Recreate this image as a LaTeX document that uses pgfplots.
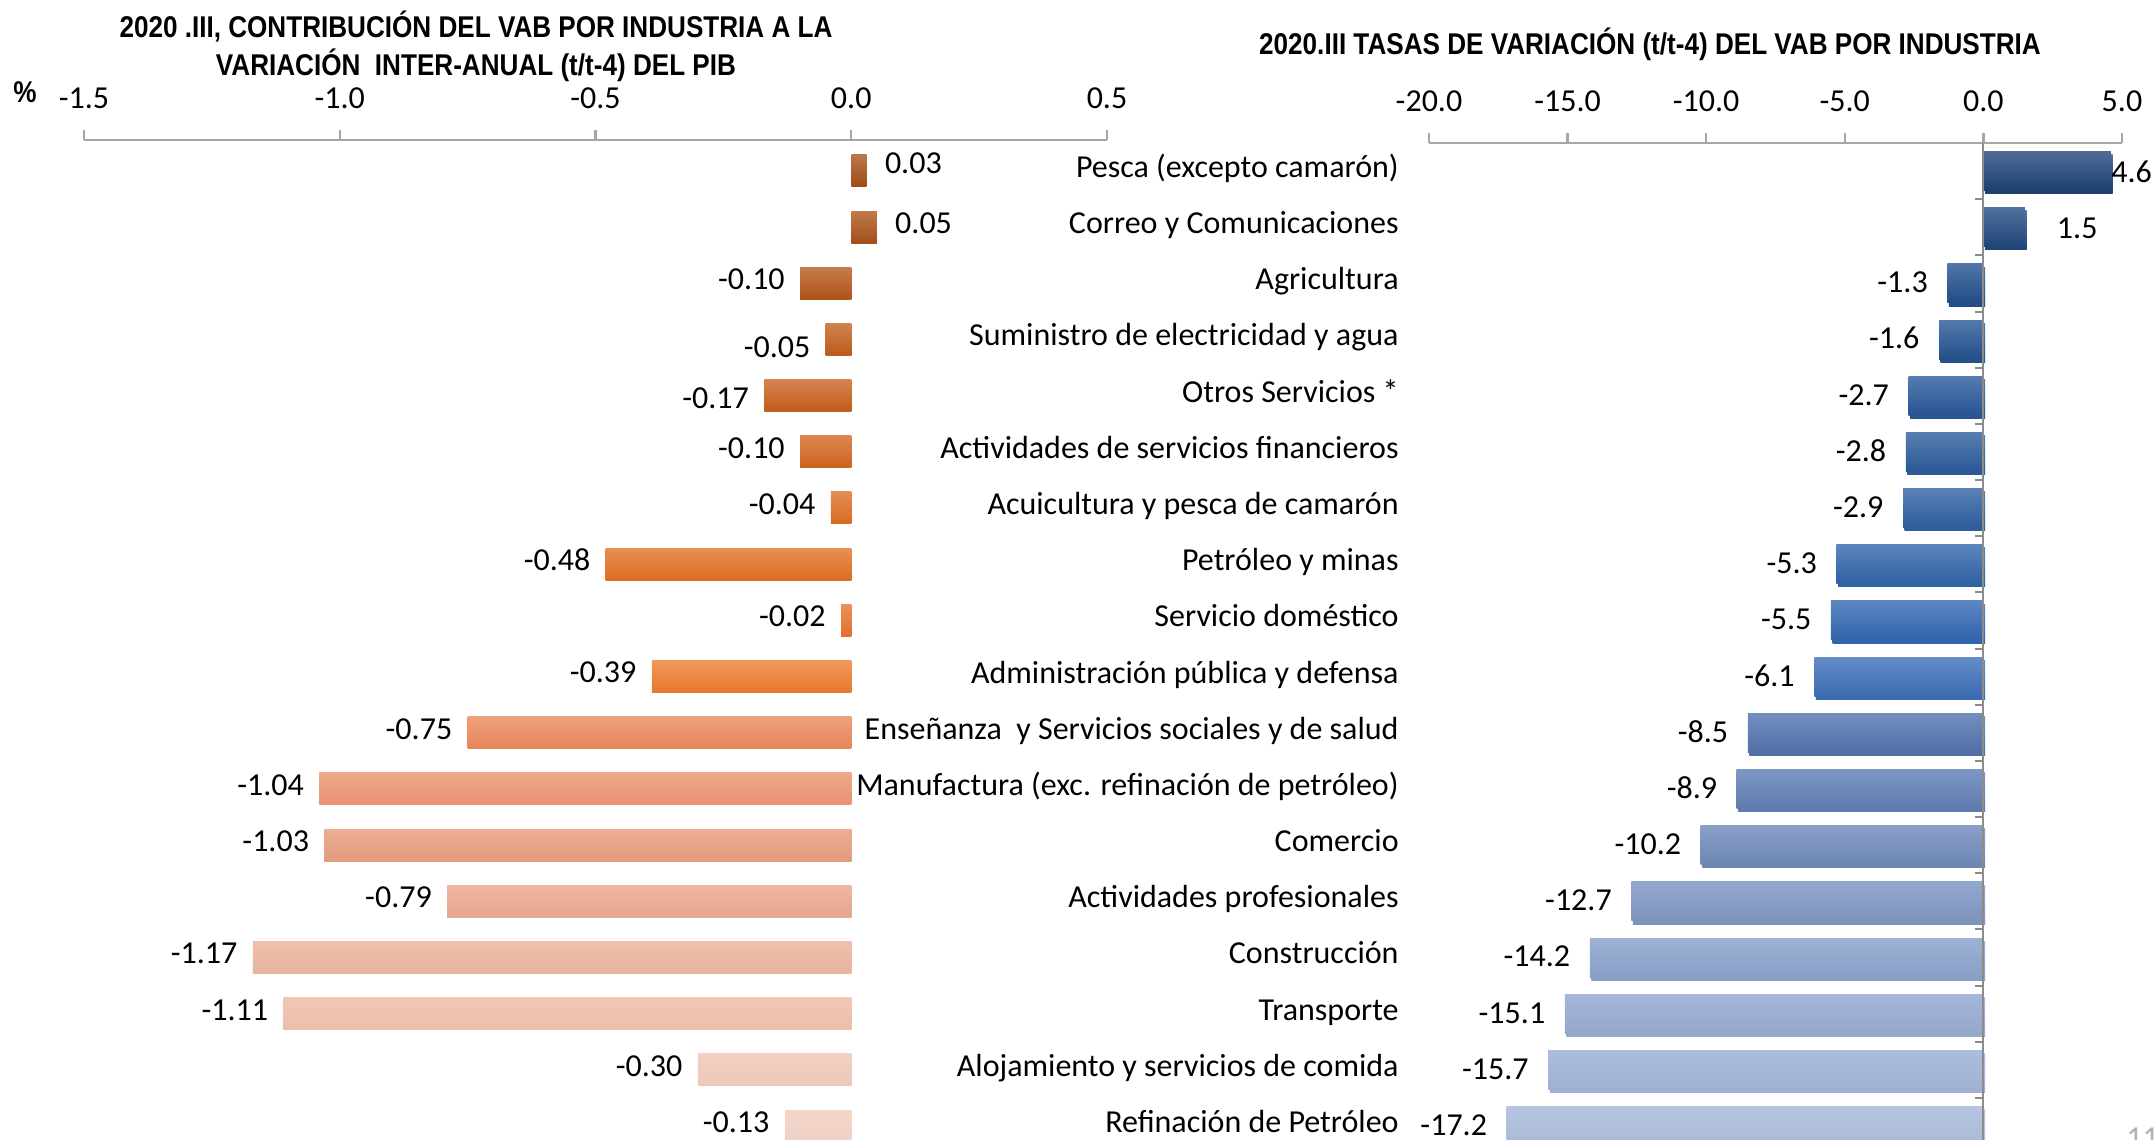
\documentclass[border=0pt]{standalone}
\usepackage{pgfplots}
\pgfplotsset{compat=1.18}
\usepackage{fontspec}
\setmainfont{Carlito}
\newfontfamily\titlefont[FakeStretch=0.87]{Liberation Sans}
\newcommand\lab{\fontsize{16}{19}\selectfont}
\newcommand\ttl{\titlefont\bfseries\fontsize{15}{19}\selectfont}

\definecolor{axgray}{HTML}{A6A6A6}
\definecolor{axgray2}{HTML}{8C8C8C}
\definecolor{lpeach}{HTML}{FFE0C8}
\definecolor{lblue}{HTML}{CFE0FF}
% left bars (top to bottom)
\definecolor{La}{HTML}{9E4A16}
\definecolor{Lb}{HTML}{A44E18}
\definecolor{Lc}{HTML}{AE5218}
\definecolor{Ld}{HTML}{BA5A1C}
\definecolor{Le}{HTML}{C25C1C}
\definecolor{Lf}{HTML}{CC621E}
\definecolor{Lg}{HTML}{D86A22}
\definecolor{Lh}{HTML}{DE6C22}
\definecolor{Li}{HTML}{E27028}
\definecolor{Lj}{HTML}{E8782E}
\definecolor{Lk}{HTML}{E6855A}
\definecolor{Ll}{HTML}{E89272}
\definecolor{Lm}{HTML}{E49A7E}
\definecolor{Ln}{HTML}{E6A590}
\definecolor{Lo}{HTML}{E8B2A0}
\definecolor{Lp}{HTML}{EBBCAC}
\definecolor{Lq}{HTML}{EDC8BC}
\definecolor{Lr}{HTML}{EFD2C8}
% right bars (top to bottom)
\definecolor{Ra}{HTML}{1C3F6E}
\definecolor{Rb}{HTML}{1F4577}
\definecolor{Rc}{HTML}{214C85}
\definecolor{Rd}{HTML}{24508A}
\definecolor{Re}{HTML}{275592}
\definecolor{Rf}{HTML}{2A5895}
\definecolor{Rg}{HTML}{2C5C9A}
\definecolor{Rh}{HTML}{2F61A3}
\definecolor{Ri}{HTML}{3064AA}
\definecolor{Rj}{HTML}{3B6CB0}
\definecolor{Rk}{HTML}{4F6FA6}
\definecolor{Rl}{HTML}{5E7AAE}
\definecolor{Rm}{HTML}{6E86B4}
\definecolor{Rn}{HTML}{7D92BC}
\definecolor{Ro}{HTML}{8A9FC6}
\definecolor{Rp}{HTML}{95A8CC}
\definecolor{Rq}{HTML}{9FB0D2}
\definecolor{Rr}{HTML}{AAB9D6}

\pgfplotsset{
 common/.style={
  scale only axis, anchor=south west, height=502pt,
  ymin=-0.32, ymax=17.55,
  axis x line*=top,
  x axis line style={-, draw=axgray, line width=1.2pt},
  xtick align=outside, major tick length=5pt,
  xtick style={draw=axgray, line width=1.2pt},
  xticklabel style={font=\lab, text=black, anchor=center, yshift=16pt},
  clip=false,
  point meta=explicit symbolic,
  nodes near coords={\pgfplotspointmeta},
  every node near coord/.append style={font=\lab, text=black, inner sep=0pt, text height=0.85em, text depth=0.21em},
 },
 lbar/.style={xbar, bar width=16pt, bar shift=0pt, draw=none, forget plot, top color=#1!70!lpeach, bottom color=#1},
 rbar/.style={xbar, bar width=19.5pt, bar shift=0pt, draw=none, forget plot, top color=#1!72!lblue, bottom color=#1,
   preaction={fill=black!18, transform canvas={xshift=0.8pt, yshift=-1.6pt}}},
 vpos/.style={every node near coord/.append style={anchor=west, xshift=#1}},
 vneg/.style={every node near coord/.append style={anchor=east, xshift=-#1}},
}

\begin{document}
\begin{tikzpicture}
\useasboundingbox (0,0) rectangle (1077pt,570pt);

% ---------------- left chart ----------------
\begin{axis}[common,
  at={(42pt,-2pt)}, width=511.5pt,
  xmin=-1.5, xmax=0.5,
  axis y line=none, ytick=\empty,
  xtick={-1.5,-1,-0.5,0,0.5}, xticklabels={-1.5,-1.0,-0.5,0.0,0.5},
]
\addplot[lbar=La, vpos=9pt, every node near coord/.append style={yshift=2pt}] coordinates {(0.03,17) [0.03]};
\addplot[lbar=Lb, vpos=9pt] coordinates {(0.05,16) [0.05]};
\addplot[lbar=Lc, vneg=7.5pt] coordinates {(-0.10,15) [-0.10]};
\addplot[lbar=Ld, vneg=7.5pt, every node near coord/.append style={yshift=-6pt}] coordinates {(-0.05,14) [-0.05]};
\addplot[lbar=Le, vneg=7.5pt, every node near coord/.append style={yshift=-3pt}] coordinates {(-0.17,13) [-0.17]};
\addplot[lbar=Lf, vneg=7.5pt] coordinates {(-0.10,12) [-0.10]};
\addplot[lbar=Lg, vneg=7.5pt] coordinates {(-0.04,11) [-0.04]};
\addplot[lbar=Lh, vneg=7.5pt] coordinates {(-0.48,10) [-0.48]};
\addplot[lbar=Li, vneg=7.5pt] coordinates {(-0.02,9) [-0.02]};
\addplot[lbar=Lj, vneg=7.5pt] coordinates {(-0.39,8) [-0.39]};
\addplot[lbar=Lk, vneg=7.5pt] coordinates {(-0.75,7) [-0.75]};
\addplot[lbar=Ll, vneg=7.5pt] coordinates {(-1.04,6) [-1.04]};
\addplot[lbar=Lm, vneg=7.5pt] coordinates {(-1.03,5) [-1.03]};
\addplot[lbar=Ln, vneg=7.5pt] coordinates {(-0.79,4) [-0.79]};
\addplot[lbar=Lo, vneg=7.5pt] coordinates {(-1.17,3) [-1.17]};
\addplot[lbar=Lp, vneg=7.5pt] coordinates {(-1.11,2) [-1.11]};
\addplot[lbar=Lq, vneg=7.5pt] coordinates {(-0.30,1) [-0.30]};
\addplot[lbar=Lr, vneg=7.5pt] coordinates {(-0.13,0) [-0.13]};
\end{axis}

% ---------------- right chart ----------------
\begin{axis}[common,
  at={(714.5pt,-2pt)}, width=346.5pt, height=500.5pt, ymax=17.5,
  xmin=-20, xmax=5,
  axis y line*=left, y axis line style={draw=none},
  xtick={-20,-15,-10,-5,0,5}, xticklabels={-20.0,-15.0,-10.0,-5.0,0.0,5.0},
  ytick={0,1,...,17}, ytick style={draw=none},
  yticklabels={Refinación de Petróleo, Alojamiento y servicios de comida, Transporte, Construcción, Actividades profesionales, Comercio, Manufactura (exc. refinación de petróleo), Enseñanza\ \ y Servicios sociales y de salud, Administración pública y defensa, Servicio doméstico, Petróleo y minas, Acuicultura y pesca de camarón, Actividades de servicios financieros, Otros Servicios *, Suministro de electricidad y agua, Agricultura, Correo y Comunicaciones, Pesca (excepto camarón)},
  yticklabel style={font=\lab, text=black, anchor=east, inner sep=0pt, text height=0.85em, text depth=0.21em, xshift=-15pt},
  every node near coord/.append style={yshift=-1.5pt},
]
\addplot[rbar=Ra, vpos=0pt, every node near coord/.append style={yshift=-1pt}] coordinates {(4.6,17) [4.6]};
\addplot[rbar=Rb, vpos=15.8pt, every node near coord/.append style={yshift=-1pt}] coordinates {(1.5,16) [1.5]};
\addplot[rbar=Rc, vneg=9.6pt] coordinates {(-1.3,15) [-1.3]};
\addplot[rbar=Rd, vneg=9.6pt] coordinates {(-1.6,14) [-1.6]};
\addplot[rbar=Re, vneg=9.6pt] coordinates {(-2.7,13) [-2.7]};
\addplot[rbar=Rf, vneg=9.6pt] coordinates {(-2.8,12) [-2.8]};
\addplot[rbar=Rg, vneg=9.6pt] coordinates {(-2.9,11) [-2.9]};
\addplot[rbar=Rh, vneg=9.6pt] coordinates {(-5.3,10) [-5.3]};
\addplot[rbar=Ri, vneg=9.6pt] coordinates {(-5.5,9) [-5.5]};
\addplot[rbar=Rj, vneg=9.6pt] coordinates {(-6.1,8) [-6.1]};
\addplot[rbar=Rk, vneg=9.6pt] coordinates {(-8.5,7) [-8.5]};
\addplot[rbar=Rl, vneg=9.6pt] coordinates {(-8.9,6) [-8.9]};
\addplot[rbar=Rm, vneg=9.6pt] coordinates {(-10.2,5) [-10.2]};
\addplot[rbar=Rn, vneg=9.6pt] coordinates {(-12.7,4) [-12.7]};
\addplot[rbar=Ro, vneg=9.6pt] coordinates {(-14.2,3) [-14.2]};
\addplot[rbar=Rp, vneg=9.6pt] coordinates {(-15.1,2) [-15.1]};
\addplot[rbar=Rq, vneg=9.6pt] coordinates {(-15.7,1) [-15.7]};
\addplot[rbar=Rr, vneg=9.6pt] coordinates {(-17.2,0) [-17.2]};
\draw[axgray2, line width=1pt] (axis cs:0,-0.32) -- (axis cs:0,17.5);
\pgfplotsinvokeforeach{0.5,1.5,...,16.5}{
  \draw[axgray2, line width=1pt] (axis cs:0,#1) -- ++(-4pt,0pt);
}
\end{axis}

% titles
\node[font=\ttl, align=center, text=black] at (238pt,547pt)
  {2020 .III, CONTRIBUCIÓN DEL VAB POR INDUSTRIA A LA\\VARIACIÓN\ \ INTER-ANUAL (t/t-4) DEL PIB};
\node[font=\ttl, text=black] at (825pt,548pt)
  {2020.III TASAS DE VARIACIÓN (t/t-4) DEL VAB POR INDUSTRIA};
\node[font=\ttl, text=black] at (12.5pt,524pt) {\%};
\node[font=\lab, text=gray!60, anchor=north west, inner sep=0pt] at (1063pt,6pt) {11};
\end{tikzpicture}
\end{document}
